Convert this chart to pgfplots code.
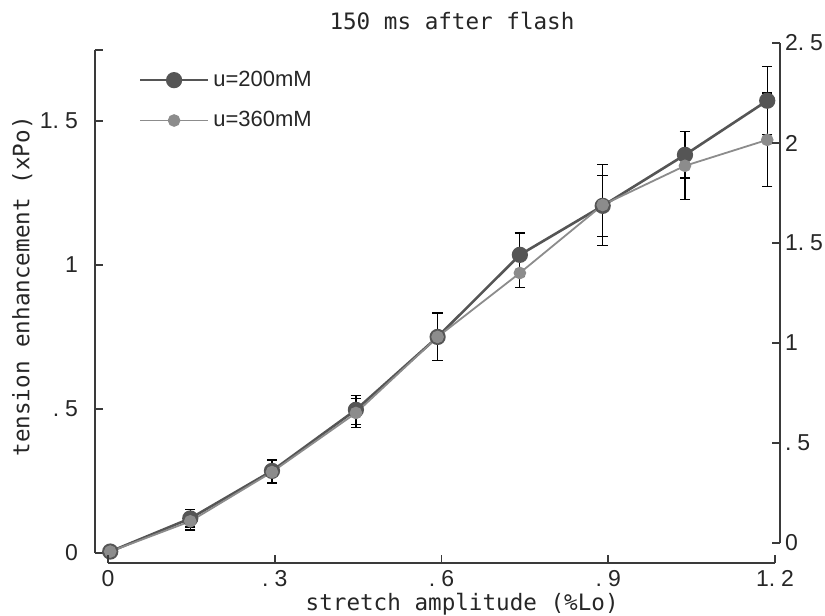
\documentclass[border=0pt]{standalone}
\usepackage{pgfplots}
\pgfplotsset{compat=1.18}
\usepackage{fontspec}
\setmainfont{Liberation Sans}
\newfontfamily\monofont{DejaVu Sans Mono}
\definecolor{axisgray}{HTML}{3A3A3A}
\definecolor{darkser}{HTML}{555555}
\definecolor{lightser}{HTML}{8C8C8C}
\newcommand{\dpt}{.\kern3pt{}}
\begin{document}
\begin{tikzpicture}
\useasboundingbox (0,0) rectangle (412.5pt,308pt);
% data axis with left scale
\begin{axis}[
    at={(47.5pt,31.5pt)}, anchor=south west,
    scale only axis, width=340pt, height=251.5pt,
    xmin=-0.0234, xmax=1.2, ymin=0, ymax=1.746,
    axis x line=none, axis y line*=left,
    axis line style={axisgray, line width=1pt},
    ytick={0,0.5,1,1.5}, yticklabels={0,\dpt5,1,1\dpt5},
    extra y ticks={1.746}, extra y tick labels={},
    tick align=inside, major tick length=4pt,
    tick style={axisgray, line width=0.8pt},
    yticklabel style={font=\fontsize{11.5}{14}\selectfont, text=black!85, xshift=-5pt},
    ylabel={tension enhancement (xPo)},
    ylabel style={font=\monofont\fontsize{11.3}{13}\selectfont, text=black!85,
        at={(axis description cs:-0.107,0.53)}, anchor=center},
    title={150 ms after flash},
    title style={font=\monofont\fontsize{11.3}{13}\selectfont, text=black!85,
        at={(axis description cs:0.525,1)}, anchor=base, yshift=4pt},
    legend style={at={(axis description cs:0.055,0.975)}, anchor=north west,
        draw=none, fill=none, font=\fontsize{11}{13}\selectfont,
        text=black!85, row sep=7pt},
    legend cell align=left,
    legend image code/.code={\draw[mark repeat=2,mark phase=2,#1]
        plot coordinates {(0pt,0pt) (17pt,0pt) (34pt,0pt)};},
  ]
  \addplot[color=darkser, line width=1.3pt, mark=*, mark size=3.4pt,
      mark options={fill=darkser, draw=darkser},
      error bars/.cd, y dir=both, y explicit,
      error bar style={black, line width=0.6pt},
      error mark options={rotate=90, black, mark size=2.6pt, line width=0.6pt}]
    coordinates {
      (0.004,0.005) +- (0,0.01)
      (0.148,0.12) +- (0,0.03)
      (0.295,0.285) +- (0,0.04)
      (0.446,0.497) +- (0,0.05)
      (0.593,0.75) +- (0,0.083)
      (0.741,1.035) +- (0,0.076)
      (0.890,1.205) +- (0,0.105)
      (1.038,1.382) +- (0,0.08)
      (1.186,1.57) +- (0,0.118)
    };
  \addplot[color=lightser, line width=0.9pt, mark=*, mark size=2.7pt,
      mark options={fill=lightser, draw=lightser},
      error bars/.cd, y dir=both, y explicit,
      error bar style={black, line width=0.6pt},
      error mark options={rotate=90, black, mark size=2.6pt, line width=0.6pt}]
    coordinates {
      (0.004,0.005) +- (0,0.01)
      (0.148,0.11) +- (0,0.03)
      (0.295,0.281) +- (0,0.04)
      (0.446,0.486) +- (0,0.05)
      (0.593,0.75) +- (0,0.083)
      (0.741,0.972) +- (0,0.05)
      (0.890,1.208) +- (0,0.14)
      (1.038,1.344) +- (0,0.118)
      (1.186,1.434) +- (0,0.163)
    };
  \legend{u=200mM, u=360mM}
\end{axis}
% bottom x axis
\begin{axis}[
    at={(54pt,26.5pt)}, anchor=south west,
    scale only axis, width=333.5pt, height=240pt,
    xmin=0, xmax=1.2, ymin=0, ymax=1,
    axis y line=none, axis x line*=bottom,
    axis line style={axisgray, line width=1pt},
    xtick={0,0.3,0.6,0.9,1.2}, xticklabels={0,\dpt3,\dpt6,\dpt9,1\dpt2},
    tick align=inside, major tick length=4pt,
    tick style={axisgray, line width=0.8pt},
    xticklabel style={font=\fontsize{11.5}{14}\selectfont, text=black!85},
    xlabel={stretch amplitude (\%Lo)},
    xlabel style={font=\monofont\fontsize{11.3}{13}\selectfont, text=black!85,
        at={(axis description cs:0.531,0)}, anchor=center, yshift=-20.5pt},
  ]
\end{axis}
% right scale
\begin{axis}[
    at={(390pt,36.5pt)}, anchor=south east,
    scale only axis, width=20pt, height=250pt,
    xmin=0, xmax=1, ymin=0, ymax=2.5,
    axis x line=none, axis y line*=right,
    axis line style={axisgray, line width=1pt},
    ytick={0,0.5,1,1.5,2,2.5}, yticklabels={0,\dpt5,1,1\dpt5,2,2\dpt5},
    tick align=inside, major tick length=4pt,
    tick style={axisgray, line width=0.8pt},
    yticklabel style={font=\fontsize{11.5}{14}\selectfont, text=black!85, xshift=-1pt},
  ]
\end{axis}
\end{tikzpicture}
\end{document}
